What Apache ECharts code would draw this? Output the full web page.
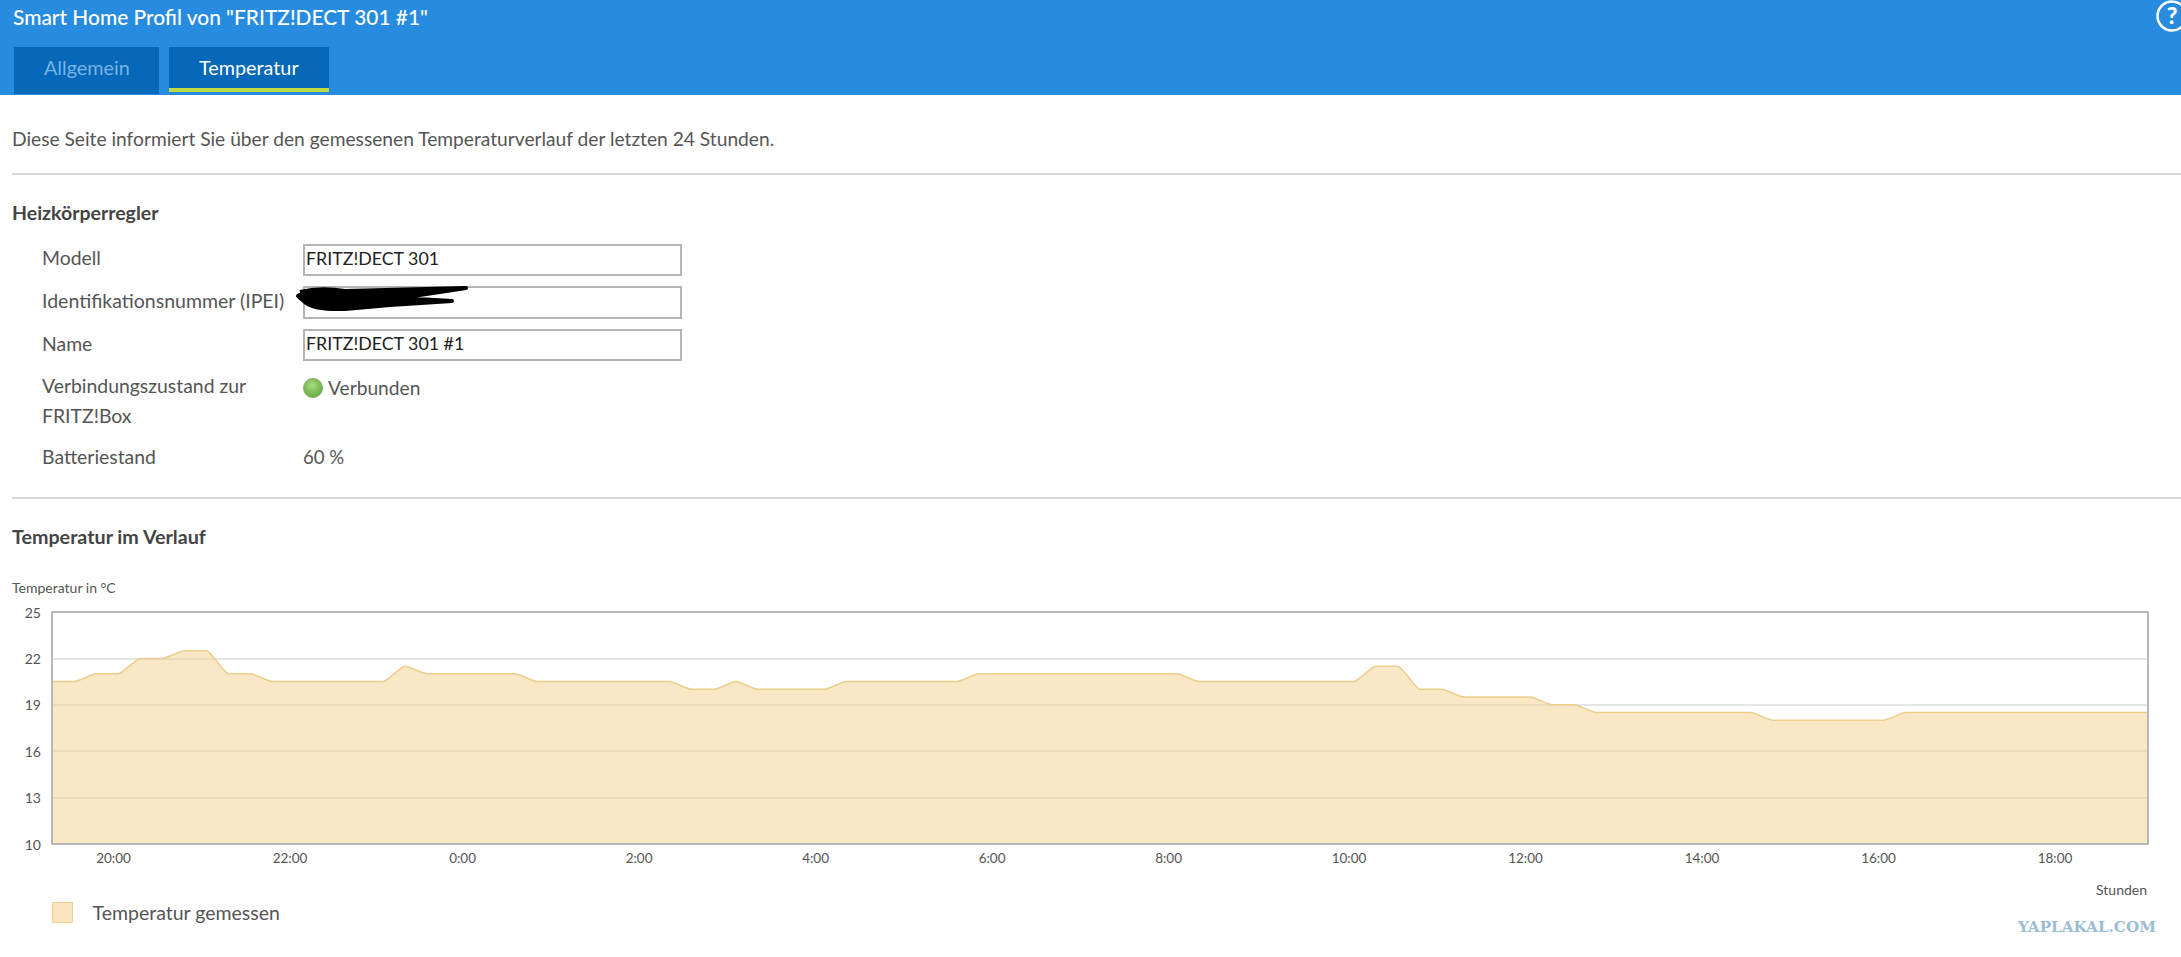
<!DOCTYPE html>
<html><head><meta charset="utf-8">
<script src="https://cdn.jsdelivr.net/npm/echarts@6/dist/echarts.min.js"></script>
<style>
html,body{margin:0;padding:0;background:#fff;overflow:hidden;width:2181px;height:957px}
body{font-family:Lato,"Open Sans",sans-serif;color:#555;position:relative}
.t{position:absolute;white-space:nowrap;line-height:1;transform:translateY(-50%)}
.b{font-weight:700;color:#444}
.box{position:absolute;box-sizing:border-box;border:2px solid #b4b4b4;background:#fff}
.hr{position:absolute;left:12px;right:0;height:2px;background:#d8d8d8}
#chart{position:absolute;left:0;top:0;width:2181px;height:957px}
</style></head><body>
<div style="position:absolute;left:0;top:0;width:2181px;height:95px;background:#278CE0"></div>
<div class="t" style="left:13px;top:17px;font-size:20.9px;color:#fff;font-weight:500">Smart Home Profil von "FRITZ!DECT 301 #1"</div>
<div style="position:absolute;left:14px;top:47px;width:145px;height:47px;background:#0568B8"></div>
<div style="position:absolute;left:169px;top:47px;width:160px;height:45px;background:#0568B8;border-bottom:0"></div>
<div style="position:absolute;left:169px;top:88px;width:160px;height:4px;background:#BCDB45"></div>
<div class="t" style="left:44px;top:68px;font-size:19.8px;color:#76B4E6">Allgemein</div>
<div class="t" style="left:199px;top:68px;font-size:19.8px;color:#fff">Temperatur</div>
<div class="t" style="left:12px;top:139px;font-size:19.2px">Diese Seite informiert Sie über den gemessenen Temperaturverlauf der letzten 24 Stunden.</div>
<div class="hr" style="top:173px"></div>
<div class="t b" style="left:12px;top:213px;font-size:19.5px">Heizkörperregler</div>
<div class="t" style="left:42px;top:258px;font-size:19.4px">Modell</div>
<div class="t" style="left:42px;top:301px;font-size:19.5px">Identifikationsnummer (IPEI)</div>
<div class="t" style="left:42px;top:344px;font-size:19.4px">Name</div>
<div class="t" style="left:42px;top:386px;font-size:19.4px">Verbindungszustand zur</div>
<div class="t" style="left:42px;top:416px;font-size:19.4px">FRITZ!Box</div>
<div class="t" style="left:42px;top:457px;font-size:19.4px">Batteriestand</div>
<div class="box" style="left:303px;top:244px;width:379px;height:32px"></div>
<div class="box" style="left:303px;top:286px;width:379px;height:33px"></div>
<div class="box" style="left:303px;top:329px;width:379px;height:32px"></div>
<div class="t" style="left:306px;top:259px;font-size:17.8px;color:#222">FRITZ!DECT 301</div>
<div class="t" style="left:306px;top:344px;font-size:17.8px;color:#222">FRITZ!DECT 301 #1</div>
<svg style="position:absolute;left:0;top:0" width="700" height="420">
<path d="M300 292 Q320 287 345 291 L466 288 L400 298 L452 301 L390 305 L345 309 Q315 310 306 303 L298 296 Q305 291 318 295" fill="#000" stroke="#000" stroke-width="4" stroke-linejoin="round"/>
<defs><radialGradient id="g" cx="45%" cy="35%" r="70%"><stop offset="0" stop-color="#A5DC7C"/><stop offset="1" stop-color="#5FA83A"/></radialGradient></defs>
<circle cx="313" cy="388" r="9.5" fill="url(#g)" stroke="#7fae68"/>
</svg>
<div class="t" style="left:328px;top:388px;font-size:19.2px">Verbunden</div>
<div class="t" style="left:303px;top:457px;font-size:18.6px">60 %</div>
<div class="hr" style="top:497px"></div>
<div class="t b" style="left:12px;top:537px;font-size:19.7px">Temperatur im Verlauf</div>
<svg style="position:absolute;left:2150px;top:0" width="31" height="34"><circle cx="22" cy="16" r="14.5" fill="none" stroke="#fff" stroke-width="2.5"/><text x="22" y="24" text-anchor="middle" font-family="Lato" font-weight="900" font-size="23" fill="#fff">?</text></svg>
<div id="chart"></div>
<div class="t" style="left:2018px;top:928px;font-family:'DejaVu Serif';font-weight:700;font-size:15.2px;color:#9BBDD5">YAPLAKAL.COM</div>
<script>
const seriesName = 'Temperatur gemessen';
const yTicks = [10, 13, 16, 19, 22, 25];
const gridLines = [13, 16, 19, 22];
const temperature = [
  20.5,20.5,21,21,22,22,22.5,22.5,21,21,
  20.5,20.5,20.5,20.5,20.5,20.5,21.5,21,21,21,
  21,21,20.5,20.5,20.5,20.5,20.5,20.5,20.5,20,
  20,20.5,20,20,20,20,20.5,20.5,20.5,20.5,
  20.5,20.5,21,21,21,21,21,21,21,21,
  21,21,20.5,20.5,20.5,20.5,20.5,20.5,20.5,20.5,
  21.5,21.5,20,20,19.5,19.5,19.5,19.5,19,19,
  18.5,18.5,18.5,18.5,18.5,18.5,18.5,18.5,18,18,
  18,18,18,18,18.5,18.5,18.5,18.5,18.5,18.5,
  18.5,18.5,18.5,18.5,18.5,18.5
];
// one sample every 15 minutes, starting at 19:30
const categories = temperature.map((_, i) => {
  const m = (19 * 60 + 30 + i * 15) % 1440;
  return Math.floor(m / 60) + ':' + String(m % 60).padStart(2, '0');
});
const isLabel = (i, v) => /:00$/.test(v) && parseInt(v) % 2 === 0;
const font = 'Lato';
const chart = echarts.init(document.getElementById('chart'), null, {renderer: 'svg'});
chart.setOption({
  animation: false,
  backgroundColor: 'transparent',
  title: [
    {text: 'Temperatur in °C', left: 7, top: 575, textStyle: {fontFamily: font, fontSize: 14, fontWeight: 'normal', color: '#555'}},
    {text: 'Stunden', right: 29, top: 877, textStyle: {fontFamily: font, fontSize: 14, fontWeight: 'normal', color: '#555'}}
  ],
  legend: {
    left: 47, top: 897, itemWidth: 20, itemHeight: 20, icon: 'rect',
    data: [seriesName],
    itemStyle: {color: '#F9E6C1', borderColor: '#EBCF8E', borderWidth: 1},
    textStyle: {fontFamily: font, fontSize: 19.5, color: '#555', padding: [0, 0, 0, 15]}
  },
  grid: {left: 52, top: 612, right: 33, bottom: 113, containLabel: false},
  xAxis: {
    type: 'category', boundaryGap: false, data: categories, z: 5,
    axisLine: {show: true, lineStyle: {color: '#b8b8b8', width: 2}},
    axisTick: {show: false},
    splitLine: {show: false},
    axisLabel: {interval: isLabel, align: 'left', margin: 7, fontFamily: font, fontSize: 13.5, color: '#555'}
  },
  yAxis: [
    {
      type: 'value', min: 10, max: 25, z: 5,
      axisLine: {show: true, lineStyle: {color: '#b8b8b8', width: 2}},
      axisTick: {show: false},
      splitLine: {show: false},
      axisLabel: {customValues: yTicks, margin: 11, padding: [4, 0, 0, 0], fontFamily: font, fontSize: 14, color: '#555'}
    },
    {
      type: 'value', position: 'right', min: 10, max: 25, z: 5,
      axisLine: {show: true, lineStyle: {color: '#b8b8b8', width: 2}},
      axisTick: {show: false}, axisLabel: {show: false}, splitLine: {show: false}
    }
  ],
  series: [{
    name: seriesName, type: 'line', data: temperature, smooth: 0.2, smoothMonotone: 'x', z: 2,
    showSymbol: false, symbol: 'none',
    lineStyle: {color: '#EBCF8E', width: 1.5},
    itemStyle: {color: '#F9E6C1'},
    areaStyle: {color: '#F5D08C', opacity: 0.5},
    markLine: {
      silent: true, z: 1, symbol: 'none', label: {show: false}, animation: false,
      lineStyle: {color: '#dcdcdc', width: 1.5, type: 'solid'},
      data: gridLines.map(v => ({yAxis: v}))
    }
  }, {
    // top edge of the frame
    name: 'frame', type: 'line', data: [], z: 5, silent: true,
    markLine: {
      silent: true, z: 5, symbol: 'none', label: {show: false}, animation: false,
      lineStyle: {color: '#b8b8b8', width: 2, type: 'solid'},
      data: [{yAxis: 25}]
    }
  }]
});
</script>
</body></html>
